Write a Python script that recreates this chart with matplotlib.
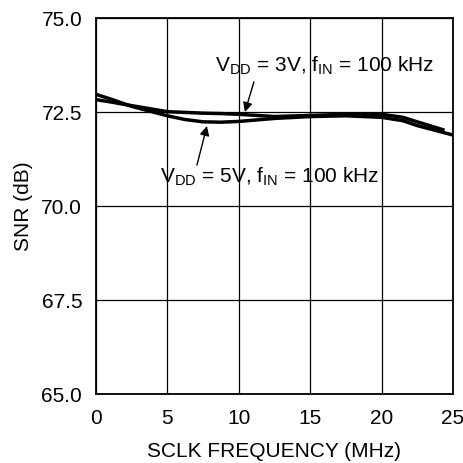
import matplotlib
matplotlib.use("Agg")
from matplotlib import pyplot as plt

plt.rcParams['font.family'] = ['Liberation Sans', 'DejaVu Sans']
plt.rcParams['mathtext.fontset'] = 'custom'
plt.rcParams['mathtext.rm'] = 'Liberation Sans'

# SNR vs SCLK frequency
freq_5v = [0, 1, 2.5, 5, 6.25, 7.5, 8.75, 10, 12.5, 15, 17.5, 20, 21.5, 22.5, 24, 25]
snr_5v = [72.97, 72.85, 72.65, 72.40, 72.30, 72.24, 72.23, 72.25, 72.33, 72.38, 72.40, 72.36,
          72.27, 72.14, 71.99, 71.89]

freq_3v = [0, 1, 2.5, 5, 6.25, 7.5, 8.75, 10, 12.5, 15, 17.5, 20, 21.5, 22.5, 24.3]
snr_3v = [72.83, 72.77, 72.67, 72.51, 72.49, 72.47, 72.46, 72.44, 72.38, 72.41, 72.44, 72.44,
          72.36, 72.24, 72.03]

x_ticks = [0, 5, 10, 15, 20, 25]
y_ticks = [65.0, 67.5, 70.0, 72.5, 75.0]

label_3v = r'$\mathrm{V_{DD}}$ = 3V, $\mathrm{f_{IN}}$ = 100 kHz'
label_5v = r'$\mathrm{V_{DD}}$ = 5V, $\mathrm{f_{IN}}$ = 100 kHz'

fig = plt.figure(figsize=(4.64, 4.63), dpi=100)
ax = fig.add_axes([0.207, 0.149, 0.769, 0.812])

ax.plot(freq_5v, snr_5v, color='black', linewidth=2.5)
ax.plot(freq_3v, snr_3v, color='black', linewidth=2.5)

ax.set_xlim(0, 25)
ax.set_ylim(65, 75)
ax.set_xticks(x_ticks)
ax.set_yticks(y_ticks)
ax.set_yticklabels(['%.1f' % v for v in y_ticks])
ax.tick_params(length=0, labelsize=15)
ax.tick_params(axis='y', pad=10)
ax.tick_params(axis='x', pad=11)
ax.grid(True, color='black', linewidth=0.9)
for s in ax.spines.values():
    s.set_linewidth(1.3)

ax.set_xlabel('SCLK FREQUENCY (MHz)', fontsize=15, labelpad=10)
ax.set_ylabel('SNR (dB)', fontsize=15, labelpad=6)

arrow = dict(arrowstyle='-|>', color='black', linewidth=1.0, mutation_scale=14,
             shrinkA=0, shrinkB=0)
ax.annotate('', xy=(10.43, 72.50), xytext=(11.06, 73.30), arrowprops=arrow)
ax.annotate('', xy=(7.77, 72.13), xytext=(7.07, 71.09), arrowprops=arrow)
ax.text(8.33, 73.56, label_3v, fontsize=15, va='baseline', ha='left')
ax.text(4.48, 70.61, label_5v, fontsize=15, va='baseline', ha='left')

fig.savefig('out.png', dpi=100)
